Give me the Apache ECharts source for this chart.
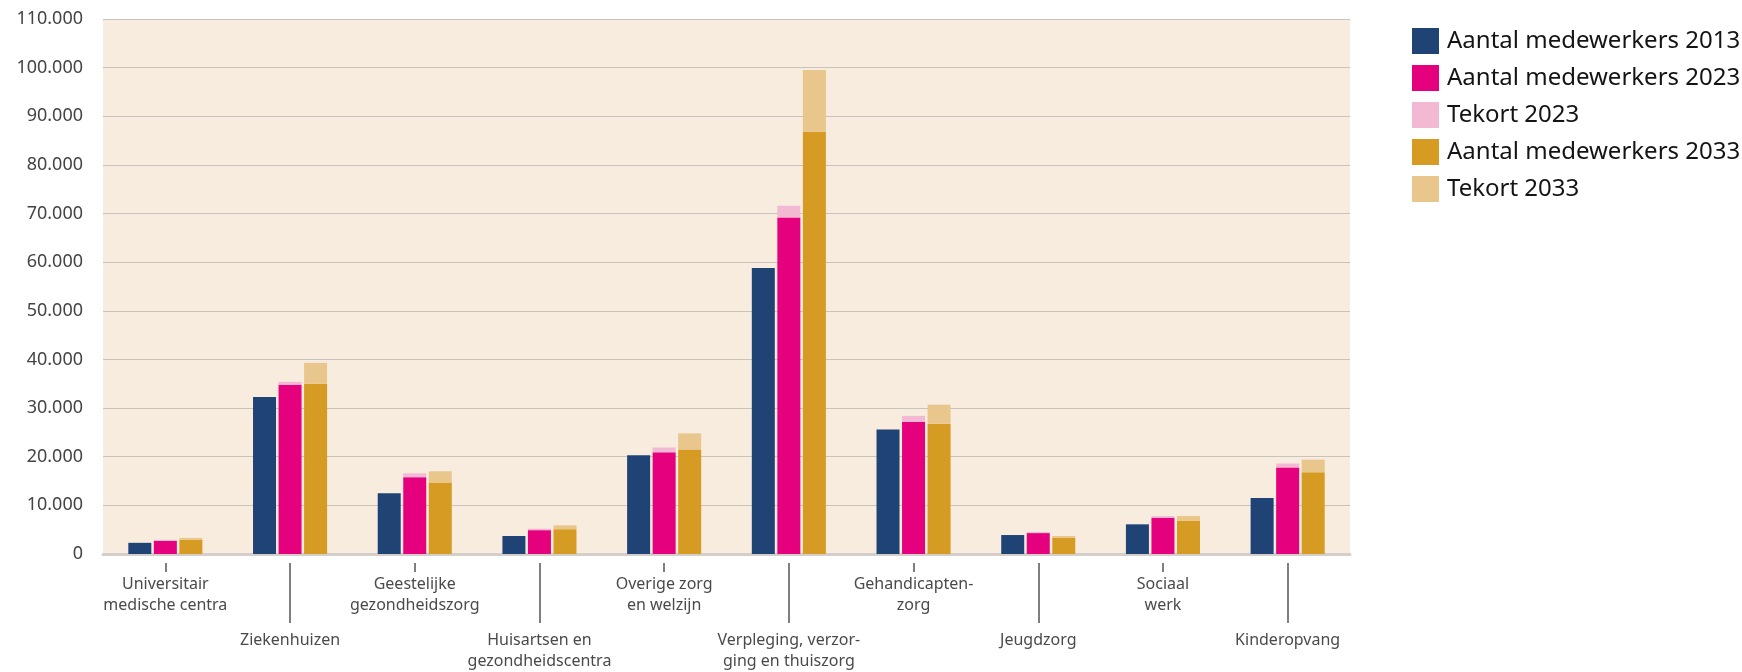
<!DOCTYPE html>
<html>
<head>
<meta charset="utf-8">
<script src="https://cdn.jsdelivr.net/npm/echarts@6/dist/echarts.min.js"></script>
<style>
  html, body { margin: 0; padding: 0; background: #ffffff; }
  #chart { width: 1742px; height: 672px; }
</style>
</head>
<body>
<div id="chart"></div>
<script>
// Sectors in zorg en welzijn
const categories = [
  'Universitair\nmedische centra',
  'Ziekenhuizen',
  'Geestelijke\ngezondheidszorg',
  'Huisartsen en\ngezondheidscentra',
  'Overige zorg\nen welzijn',
  'Verpleging, verzor-\nging en thuiszorg',
  'Gehandicapten-\nzorg',
  'Jeugdzorg',
  'Sociaal\nwerk',
  'Kinderopvang'
];

// Number of employees and staff shortages per sector
const medewerkers2013 = [2300, 32300, 12500, 3700, 20300, 58800, 25600, 3900, 6100, 11500];
const medewerkers2023 = [2700, 34800, 15800, 4900, 20900, 69200, 27200, 4300, 7400, 17800];
const tekort2023      = [200, 600, 800, 300, 1000, 2400, 1200, 200, 400, 800];
const medewerkers2033 = [2900, 35000, 14700, 5100, 21500, 86800, 26800, 3300, 6800, 16800];
const tekort2033      = [400, 4300, 2300, 800, 3300, 12700, 3900, 400, 1000, 2600];

const seriesNames = [
  'Aantal medewerkers 2013',
  'Aantal medewerkers 2023',
  'Tekort 2023',
  'Aantal medewerkers 2033',
  'Tekort 2033'
];

// Value axis: 0 to 110.000 in steps of 10.000
const yMin = 0;
const yMax = 110000;
const yStep = 10000;

const colors = ['#1f4374', '#e5007d', '#f3b8d4', '#d69b22', '#e9c68b'];
const font = '"Noto Sans", "Open Sans", sans-serif';

function thousands(v) {
  return String(v).replace(/\B(?=(\d{3})+(?!\d))/g, '.');
}

const isEven = (i) => i % 2 === 0;
const isOdd = (i) => i % 2 === 1;

function labelAxis(show, tickLen, margin) {
  return {
    type: 'category',
    data: categories,
    position: 'bottom',
    offset: 9,
    boundaryGap: true,
    axisLine: { show: false },
    axisTick: {
      show: true,
      alignWithLabel: true,
      length: tickLen,
      interval: (i) => show(i),
      lineStyle: { color: '#555555', width: 1.5 }
    },
    axisLabel: {
      interval: (i) => show(i),
      margin: margin,
      fontFamily: font,
      fontSize: 16,
      lineHeight: 21,
      color: '#4a4a4a',
      verticalAlign: 'top'
    },
    splitLine: { show: false }
  };
}

const chart = echarts.init(document.getElementById('chart'), null, { renderer: 'canvas' });

chart.setOption({
  animation: false,
  backgroundColor: '#ffffff',
  color: colors,
  textStyle: { fontFamily: font },
  grid: {
    left: 103,
    right: 392,
    top: 19,
    bottom: 116,
    show: true,
    backgroundColor: '#f8ecde',
    borderWidth: 0
  },
  legend: {
    orient: 'vertical',
    left: 1412,
    top: 28,
    padding: 0,
    itemWidth: 27,
    itemHeight: 26,
    itemGap: 11,
    icon: 'rect',
    data: seriesNames,
    textStyle: {
      fontFamily: font,
      fontSize: 24,
      color: '#141414',
      padding: [0, 0, 0, 3]
    }
  },
  xAxis: [
    {
      type: 'category',
      data: categories,
      position: 'bottom',
      boundaryGap: true,
      axisLine: { show: true, lineStyle: { color: '#d4cfca', width: 3 } },
      axisTick: { show: false },
      axisLabel: { show: false },
      splitLine: { show: false }
    },
    labelAxis(isEven, 9, 11),
    labelAxis(isOdd, 60, 67)
  ],
  yAxis: {
    type: 'value',
    min: yMin,
    max: yMax,
    interval: yStep,
    axisLine: { show: false },
    axisTick: { show: false },
    axisLabel: {
      formatter: thousands,
      fontFamily: font,
      fontSize: 18,
      color: '#444444',
      margin: 20
    },
    splitLine: { show: true, lineStyle: { color: '#c8c3be', width: 1.2 } }
  },
  series: [
    { name: seriesNames[0], type: 'bar', stack: 's2013', data: medewerkers2013 },
    { name: seriesNames[1], type: 'bar', stack: 's2023', data: medewerkers2023 },
    { name: seriesNames[2], type: 'bar', stack: 's2023', data: tekort2023 },
    { name: seriesNames[3], type: 'bar', stack: 's2033', data: medewerkers2033 },
    { name: seriesNames[4], type: 'bar', stack: 's2033', data: tekort2033 }
  ].map((s) => Object.assign(s, {
    xAxisIndex: 0,
    barWidth: 23,
    barGap: '11%',
    itemStyle: { borderWidth: 0 }
  }))
});
</script>
</body>
</html>
